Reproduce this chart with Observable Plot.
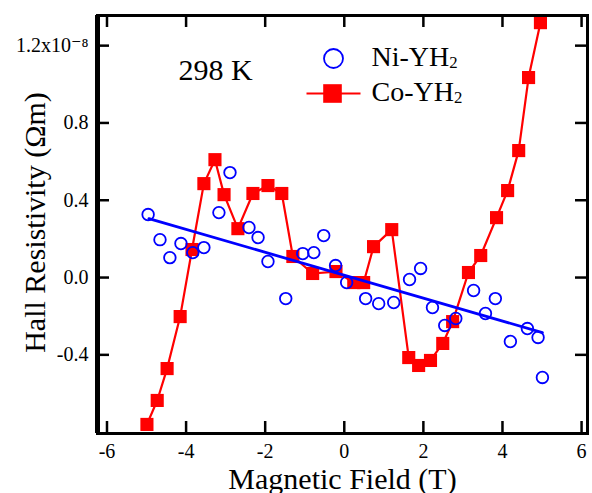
<!DOCTYPE html>
<html>
<head>
<meta charset="utf-8">
<script src="https://cdn.jsdelivr.net/npm/d3@7"></script>
<script src="https://cdn.jsdelivr.net/npm/@observablehq/plot@0.6"></script>
<style>
  html, body { margin: 0; padding: 0; background: #fff; }
</style>
</head>
<body>
<div id="chart"></div>
<script>
// ---- Data ----
const coX = [-4.99,-4.73,-4.48,-4.15,-3.85,-3.55,-3.27,-3.04,-2.69,-2.31,-1.93,-1.58,-1.30,-0.80,-0.21,0.24,0.49,0.74,1.20,1.63,1.88,2.18,2.49,2.74,3.14,3.45,3.85,4.13,4.41,4.66,4.96];
const coY = [-0.760,-0.636,-0.471,-0.202,0.145,0.486,0.610,0.429,0.253,0.435,0.476,0.435,0.109,0.021,0.031,-0.026,-0.026,0.160,0.248,-0.414,-0.455,-0.429,-0.341,-0.228,0.026,0.114,0.310,0.450,0.657,1.035,1.319];
const niX = [-4.96,-4.66,-4.41,-4.13,-3.83,-3.55,-3.17,-2.89,-2.41,-2.18,-1.93,-1.48,-1.05,-0.77,-0.52,-0.22,0.06,0.54,0.87,1.25,1.65,1.93,2.23,2.54,2.82,3.27,3.57,3.82,4.20,4.63,4.90,5.01];
const niY = [0.326,0.196,0.103,0.176,0.129,0.155,0.336,0.543,0.259,0.207,0.083,-0.109,0.124,0.129,0.217,0.062,-0.026,-0.109,-0.135,-0.129,-0.010,0.047,-0.155,-0.248,-0.212,-0.067,-0.186,-0.109,-0.331,-0.264,-0.310,-0.517];
const fitX = [-4.94, 5.01];
const fitY = [0.305, -0.285];
const xTicks = [-6, -4, -2, 0, 2, 4, 6];
const xTickLabels = ["-6", "-4", "-2", "0", "2", "4", "6"];
const yTicks = [-0.4, 0.0, 0.4, 0.8, 1.2];
const yTickLabels = ["-0.4", "0.0", "0.4", "0.8", "1.2x10\u207B\u2078"];
const seriesNames = ["Ni-YH2", "Co-YH2"];
const tempLabel = "298 K";
const xTitle = "Magnetic Field (T)";
const yTitle = "Hall Resistivity (\u03A9m)";

// ---- Layout ----
const W = 592, H = 493;
const mL = 97, mR = 5, mT = 15, mB = 60;
const plotW = W - mL - mR, plotH = H - mT - mB;
const RED = "#ff0000", BLUE = "#0000ff";
const TICK = 12;
const FONT = "'Liberation Serif', 'DejaVu Serif', serif";

const co = coX.map((x, i) => ({x, y: coY[i]}));
const ni = niX.map((x, i) => ({x, y: niY[i]}));
const fit = fitX.map((x, i) => ({x, y: fitY[i]}));

const lineSymbol = { draw(ctx, size) { ctx.moveTo(-27, 0); ctx.lineTo(27, 0); } };

const svg = Plot.plot({
  width: W, height: H,
  marginLeft: mL, marginRight: mR, marginTop: mT, marginBottom: mB,
  style: { background: "#fff", color: "#000" },
  x: { domain: [-6.24, 6.15] },
  y: { domain: [-0.807, 1.356] },
  marks: [
    // Co-YH2
    Plot.line(co, { x: "x", y: "y", stroke: RED, strokeWidth: 2.2 }),
    Plot.dot(co, { x: "x", y: "y", symbol: "square", r: 7.4, fill: RED, stroke: "none" }),
    // Ni-YH2 fit + points
    Plot.line(fit, { x: "x", y: "y", stroke: BLUE, strokeWidth: 2.8 }),
    Plot.dot(ni, { x: "x", y: "y", symbol: "circle", r: 5.8, fill: "none", stroke: BLUE, strokeWidth: 1.8 }),
    // frame
    Plot.frame({ stroke: "#000", strokeWidth: 3 }),
    Plot.ruleX([-6.24], { stroke: "#000", strokeWidth: 5 }),
    // inward ticks
    Plot.tickX(xTicks, { x: d => d, insetTop: plotH - TICK, stroke: "#000", strokeWidth: 2.5 }),
    Plot.tickX(xTicks, { x: d => d, insetBottom: plotH - TICK, stroke: "#000", strokeWidth: 2.5 }),
    Plot.tickY(yTicks, { y: d => d, insetRight: plotW - TICK, stroke: "#000", strokeWidth: 2.5 }),
    Plot.tickY(yTicks, { y: d => d, insetLeft: plotW - TICK, stroke: "#000", strokeWidth: 2.5 }),
    // tick labels
    Plot.axisX({ ticks: xTicks, tickSize: 0, tickPadding: 10, fontSize: 20, label: null,
      tickFormat: d => xTickLabels[xTicks.indexOf(d)] }),
    Plot.axisY({ ticks: yTicks, tickSize: 0, tickPadding: 9, fontSize: 20, label: null,
      tickFormat: d => yTickLabels[yTicks.findIndex(t => Math.abs(t - d) < 1e-9)] }),
    // axis titles
    Plot.text([xTitle], { text: d => d, frameAnchor: "bottom", dy: 55, textAnchor: "middle", lineAnchor: "bottom", fontSize: 30, fill: "#000" }),
    Plot.text([yTitle], { text: d => d, frameAnchor: "left", dx: -62, dy: -2, rotate: -90, textAnchor: "middle", lineAnchor: "middle", fontSize: 30, fill: "#000" }),
    // temperature label
    Plot.text([tempLabel], { text: d => d, frameAnchor: "top-left", dx: 81, dy: 64, textAnchor: "start", lineAnchor: "bottom", fontSize: 30, fill: "#000" }),
    // legend
    Plot.dot([0], { frameAnchor: "top-left", dx: 236, dy: 43, symbol: "circle", r: 9.5, fill: "none", stroke: BLUE, strokeWidth: 1.8 }),
    Plot.dot([0], { frameAnchor: "top-left", dx: 236, dy: 78, symbol: lineSymbol, stroke: RED, strokeWidth: 2.2, fill: "none" }),
    Plot.dot([0], { frameAnchor: "top-left", dx: 235, dy: 78, symbol: "square", r: 10.5, fill: RED, stroke: "none" }),
    Plot.text([seriesNames[0]], { text: d => d, frameAnchor: "top-left", dx: 274, dy: 50, textAnchor: "start", lineAnchor: "bottom", fontSize: 28, fill: "#000" }),
    Plot.text([seriesNames[1]], { text: d => d, frameAnchor: "top-left", dx: 274, dy: 85, textAnchor: "start", lineAnchor: "bottom", fontSize: 28, fill: "#000" })
  ]
});

// force the serif font on every text node
d3.select(svg).attr("font-family", FONT);
d3.select(svg).selectAll("text, tspan").each(function () {
  this.removeAttribute("font-family");
  this.style.setProperty("font-family", FONT, "important");
});

// subscript "2" in YH2
d3.select(svg).selectAll("text").each(function () {
  const t = this.textContent;
  if (/YH2$/.test(t) && this.children.length === 0) {
    const s = d3.select(this);
    s.text(t.slice(0, -1));
    s.append("tspan").attr("font-size", "60%").attr("dy", "0.12em").text("2");
  }
});

document.getElementById("chart").appendChild(svg);
</script>
</body>
</html>
